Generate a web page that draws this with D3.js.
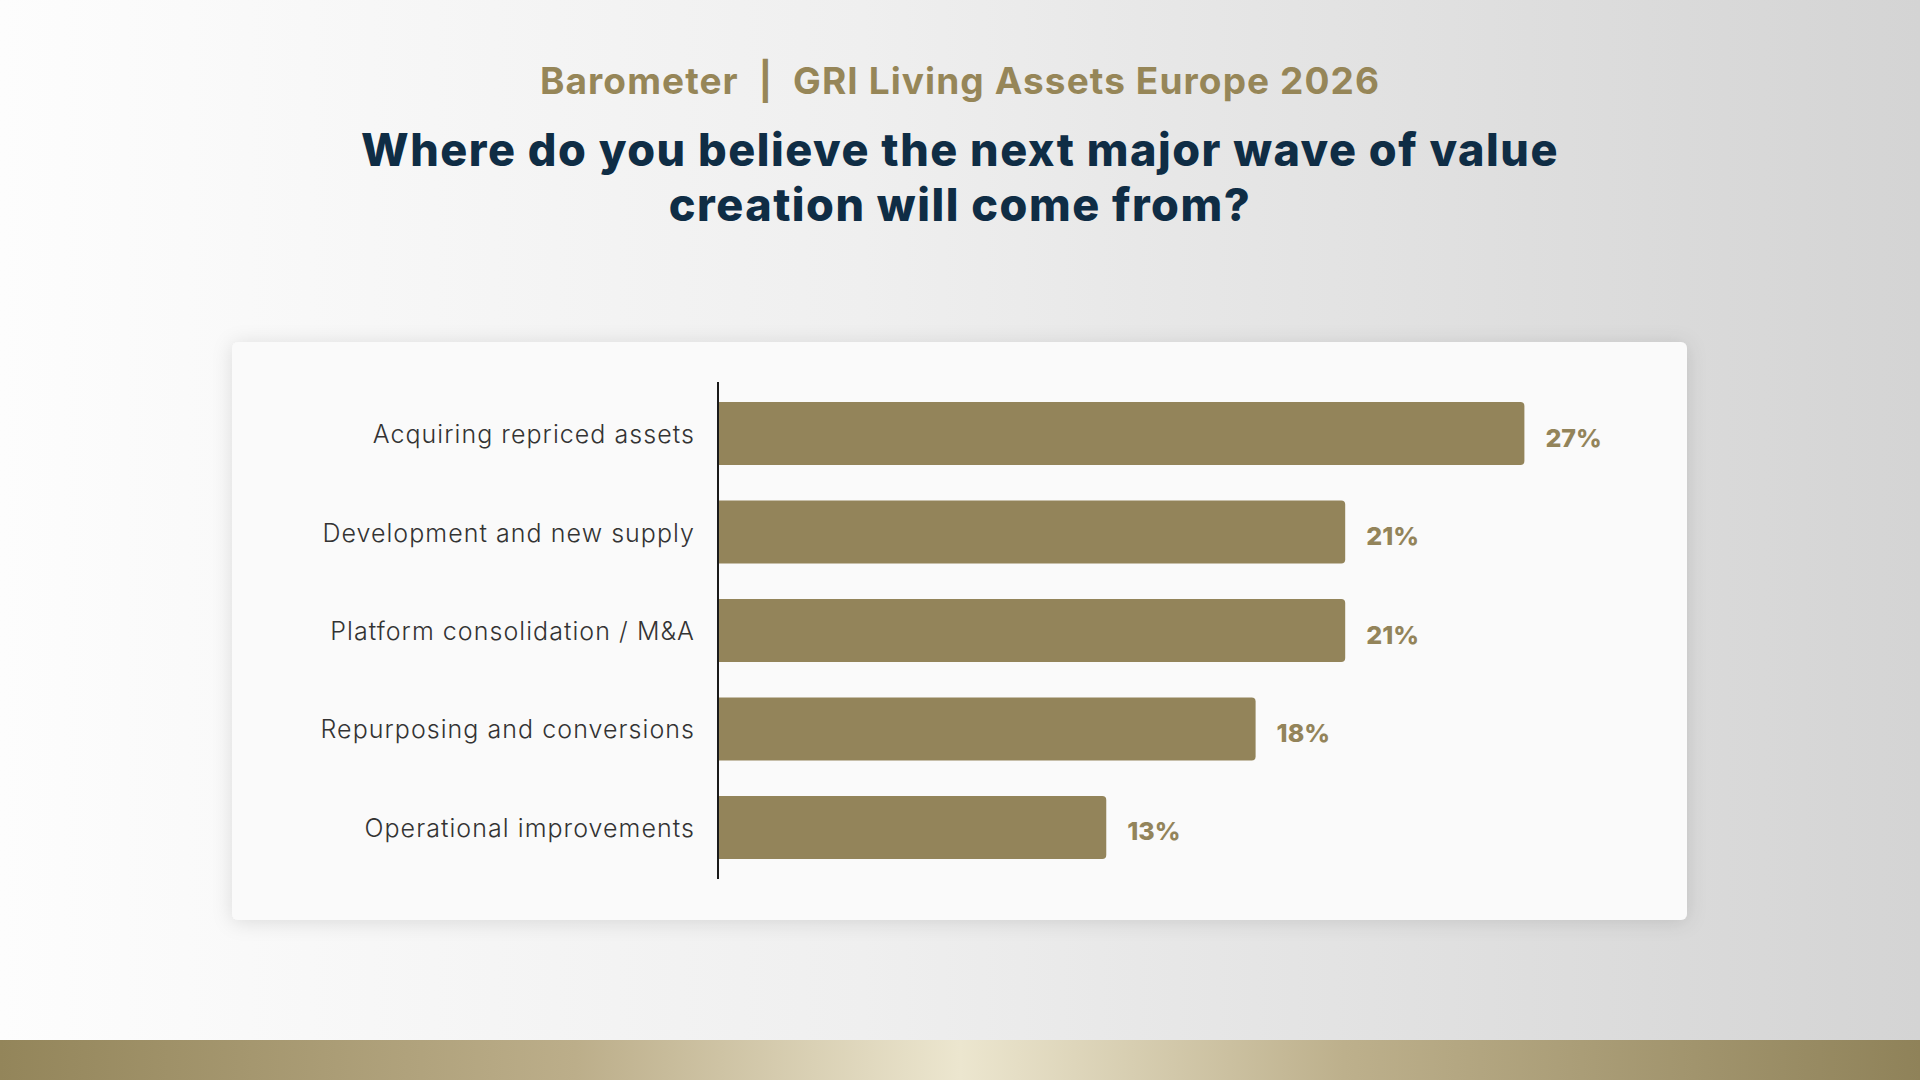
<!DOCTYPE html>
<html>
<head>
<meta charset="utf-8">
<script src="https://cdn.jsdelivr.net/npm/d3@7"></script>
<style>
  html, body { margin: 0; padding: 0; }
  body { width: 1920px; height: 1080px; overflow: hidden; }
  svg { display: block; }
</style>
</head>
<body>
<svg id="chart" width="1920" height="1080"></svg>
<script>
'use strict'

// data
var categories = [
    "Acquiring repriced assets",
    "Development and new supply",
    "Platform consolidation / M&A",
    "Repurposing and conversions",
    "Operational improvements"
];
var values = [27, 21, 21, 18, 13];

var kicker = "Barometer  |  GRI Living Assets Europe 2026";
var titleLines = [
    "Where do you believe the next major wave of value",
    "creation will come from?"
];

// colours
var gold = "#93845a";
var navy = "#0f2d45";

var width = 1920, height = 1080;
var svg = d3.select("#chart");
var defs = svg.append("defs");

// page background
var bg = defs.append("linearGradient").attr("id", "bgGrad")
    .attr("x1", "0").attr("x2", "1").attr("y1", "0").attr("y2", "0");
bg.append("stop").attr("offset", "0").attr("stop-color", "#fdfdfd");
bg.append("stop").attr("offset", "0.45").attr("stop-color", "#efefef");
bg.append("stop").attr("offset", "1").attr("stop-color", "#d4d4d4");

var band = defs.append("linearGradient").attr("id", "bandGrad")
    .attr("x1", "0").attr("x2", "1").attr("y1", "0").attr("y2", "0");
band.append("stop").attr("offset", "0").attr("stop-color", "#93855a");
band.append("stop").attr("offset", "0.3").attr("stop-color", "#bcae8a");
band.append("stop").attr("offset", "0.5").attr("stop-color", "#ece6cf");
band.append("stop").attr("offset", "0.7").attr("stop-color", "#bdb08c");
band.append("stop").attr("offset", "1").attr("stop-color", "#8f8259");

var shadow = defs.append("filter").attr("id", "cardShadow")
    .attr("x", "-5%").attr("y", "-10%").attr("width", "110%").attr("height", "120%");
shadow.append("feDropShadow")
    .attr("dx", 0).attr("dy", 2).attr("stdDeviation", 10)
    .attr("flood-color", "#000").attr("flood-opacity", 0.12);

svg.append("rect").attr("width", width).attr("height", height).attr("fill", "url(#bgGrad)");
svg.append("rect").attr("x", 0).attr("y", 1040).attr("width", width).attr("height", 40)
    .attr("fill", "url(#bandGrad)");

// headings
svg.append("text")
    .attr("x", 960).attr("y", 94)
    .attr("text-anchor", "middle")
    .attr("font-family", "Inter, 'Noto Sans', sans-serif")
    .attr("font-weight", 700)
    .attr("font-size", 37)
    .attr("letter-spacing", 1.1)
    .attr("fill", "#968658")
    .attr("xml:space", "preserve")
    .text(kicker);

svg.append("g").selectAll("text")
    .data(titleLines)
    .enter().append("text")
    .attr("x", 960)
    .attr("y", function(d, i){ return 166 + i * 55 })
    .attr("text-anchor", "middle")
    .attr("font-family", "Inter, 'Noto Sans', sans-serif")
    .attr("font-weight", 800)
    .attr("font-size", 45)
    .attr("letter-spacing", 1.5)
    .attr("fill", navy)
    .text(function(d){ return d });

// card
svg.append("rect")
    .attr("x", 232).attr("y", 342)
    .attr("width", 1455).attr("height", 578)
    .attr("rx", 6).attr("ry", 6)
    .attr("fill", "#fafafa")
    .attr("filter", "url(#cardShadow)");

// scales
var axisX = 718;
var x = d3.scaleLinear().domain([0, 30]).range([axisX, axisX + 896]);
var y = d3.scaleBand().domain(categories).range([382, 879])
    .paddingInner(0.36).paddingOuter(0.203);

var rows = categories.map(function(c, i){ return {name: c, value: values[i]} });

// bar with rounded right end only
function barPath(d){
    var x0 = x(0), x1 = x(d.value), y0 = y(d.name), h = y.bandwidth(), r = 4;
    return "M" + x0 + "," + y0 +
        "H" + (x1 - r) +
        "Q" + x1 + "," + y0 + " " + x1 + "," + (y0 + r) +
        "V" + (y0 + h - r) +
        "Q" + x1 + "," + (y0 + h) + " " + (x1 - r) + "," + (y0 + h) +
        "H" + x0 + "Z";
}

svg.append("g").selectAll("path")
    .data(rows)
    .enter().append("path")
    .attr("d", barPath)
    .attr("fill", gold);

// category labels
svg.append("g").selectAll("text")
    .data(rows)
    .enter().append("text")
    .attr("x", axisX - 23)
    .attr("y", function(d){ return y(d.name) + y.bandwidth() / 2 })
    .attr("dy", "0.38em")
    .attr("text-anchor", "end")
    .attr("font-family", "Inter, 'Noto Sans', sans-serif")
    .attr("font-weight", 300)
    .attr("font-size", 25)
    .attr("letter-spacing", 1.05)
    .attr("fill", "#333333")
    .text(function(d){ return d.name });

// value labels
svg.append("g").selectAll("text")
    .data(rows)
    .enter().append("text")
    .attr("x", function(d){ return x(d.value) + 21 })
    .attr("y", function(d){ return y(d.name) + y.bandwidth() / 2 })
    .attr("dy", "0.52em")
    .attr("font-family", "Inter, 'Noto Sans', sans-serif")
    .attr("font-weight", 800)
    .attr("font-size", 25)
    .attr("fill", gold)
    .text(function(d){ return d.value + "%" });

// axis line
svg.append("line")
    .attr("x1", axisX).attr("x2", axisX)
    .attr("y1", 382).attr("y2", 879)
    .attr("stroke", "#1a1a1a")
    .attr("stroke-width", 2);
</script>
</body>
</html>
